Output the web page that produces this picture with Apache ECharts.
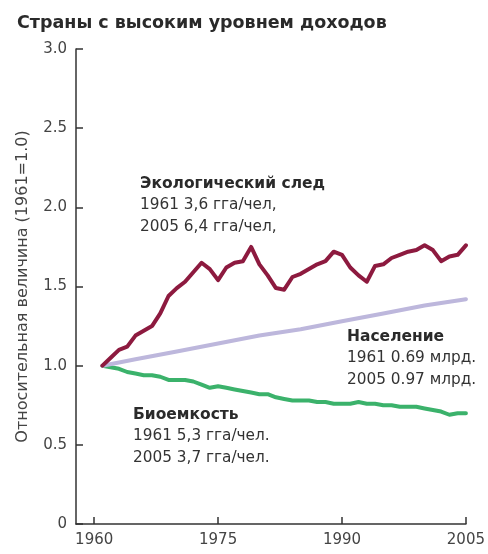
<!DOCTYPE html>
<html><head><meta charset="utf-8">
<script src="https://cdn.jsdelivr.net/npm/echarts@6/dist/echarts.min.js"></script>
<style>html,body{margin:0;padding:0;background:#fff}#c{width:488px;height:554px}</style>
</head><body><div id="c"></div>
<script>
const title = 'Страны с высоким уровнем доходов';
const yName = 'Относительная величина (1961=1.0)';
const xTicks = [1960, 1975, 1990, 2005];
const years = [1961,1962,1963,1964,1965,1966,1967,1968,1969,1970,1971,1972,1973,1974,1975,1976,1977,1978,1979,1980,1981,1982,1983,1984,1985,1986,1987,1988,1989,1990,1991,1992,1993,1994,1995,1996,1997,1998,1999,2000,2001,2002,2003,2004,2005];
const footprint = [1.00,1.05,1.10,1.12,1.19,1.22,1.25,1.33,1.44,1.49,1.53,1.59,1.65,1.61,1.54,1.62,1.65,1.66,1.75,1.64,1.57,1.49,1.48,1.56,1.58,1.61,1.64,1.66,1.72,1.70,1.62,1.57,1.53,1.63,1.64,1.68,1.70,1.72,1.73,1.76,1.73,1.66,1.69,1.70,1.76];
const biocapacity = [1.00,0.99,0.98,0.96,0.95,0.94,0.94,0.93,0.91,0.91,0.91,0.90,0.88,0.86,0.87,0.86,0.85,0.84,0.83,0.82,0.82,0.80,0.79,0.78,0.78,0.78,0.77,0.77,0.76,0.76,0.76,0.77,0.76,0.76,0.75,0.75,0.74,0.74,0.74,0.73,0.72,0.71,0.69,0.70,0.70];
const popYears = [1961,1965,1970,1975,1980,1985,1990,1995,2000,2005];
const population = [1.00,1.04,1.09,1.14,1.19,1.23,1.28,1.33,1.38,1.42];
const notes = [
  {head:'Экологический след', l1:'1961 3,6 гга/чел,', l2:'2005 6,4 гга/чел,', x:140, y:176},
  {head:'Население', l1:'1961 0.69 млрд.', l2:'2005 0.97 млрд.', x:347, y:329},
  {head:'Биоемкость', l1:'1961 5,3 гга/чел.', l2:'2005 3,7 гга/чел.', x:133, y:407}
];
const pair = (xs, ys) => xs.map((x, i) => [x, ys[i]]);

const chart = echarts.init(document.getElementById('c'));
const F = '"DejaVu Sans", Verdana, sans-serif';
const graphics = [];
notes.forEach(n => {
  graphics.push({type:'text', left:n.x, top:n.y, style:{text:n.head, font:'bold 15.5px ' + F, fill:'#2a2a2a'}});
  graphics.push({type:'text', left:n.x, top:n.y + 22, style:{text:n.l1, font:'15.3px ' + F, fill:'#333'}});
  graphics.push({type:'text', left:n.x, top:n.y + 44, style:{text:n.l2, font:'15.3px ' + F, fill:'#333'}});
});
chart.setOption({
  animation:false,
  title:{text:title, left:12, top:9, textStyle:{fontFamily:'DejaVu Sans', fontSize:17.5, fontWeight:'bold', color:'#2a2a2a'}},
  grid:{left:76, right:19, top:49, bottom:30},
  xAxis:{type:'value', min:1957.8, max:2005,
    axisLine:{lineStyle:{color:'#333', width:1.5}},
    axisTick:{inside:true, length:7, customValues:xTicks, lineStyle:{color:'#333', width:1.5}},
    axisLabel:{customValues:xTicks, color:'#444', fontSize:15, fontFamily:F, margin:9, formatter: v => String(v)},
    splitLine:{show:false}},
  yAxis:{type:'value', min:0, max:3, interval:0.5,
    name:yName, nameLocation:'middle', nameGap:45, nameRotate:90,
    nameTextStyle:{color:'#444', fontSize:16, fontFamily:F},
    axisLine:{show:true, lineStyle:{color:'#333', width:1.5}},
    axisTick:{show:true, inside:true, length:7, lineStyle:{color:'#333', width:1.5}},
    axisLabel:{color:'#444', fontSize:15, fontFamily:F, margin:9,
      formatter: v => v === 0 ? '0' : v.toFixed(1)},
    splitLine:{show:false}},
  series:[
    {type:'line', data:pair(years, biocapacity), symbol:'none', z:2, lineStyle:{color:'#3bb26b', width:4, cap:'round', join:'round'}},
    {type:'line', data:pair(popYears, population), symbol:'none', z:3, lineStyle:{color:'#bdb7dc', width:4, cap:'round'}},
    {type:'line', data:pair(years, footprint), symbol:'none', z:4, lineStyle:{color:'#8d1a3f', width:4, cap:'round', join:'round'}}
  ],
  graphic:graphics
});
</script></body></html>
